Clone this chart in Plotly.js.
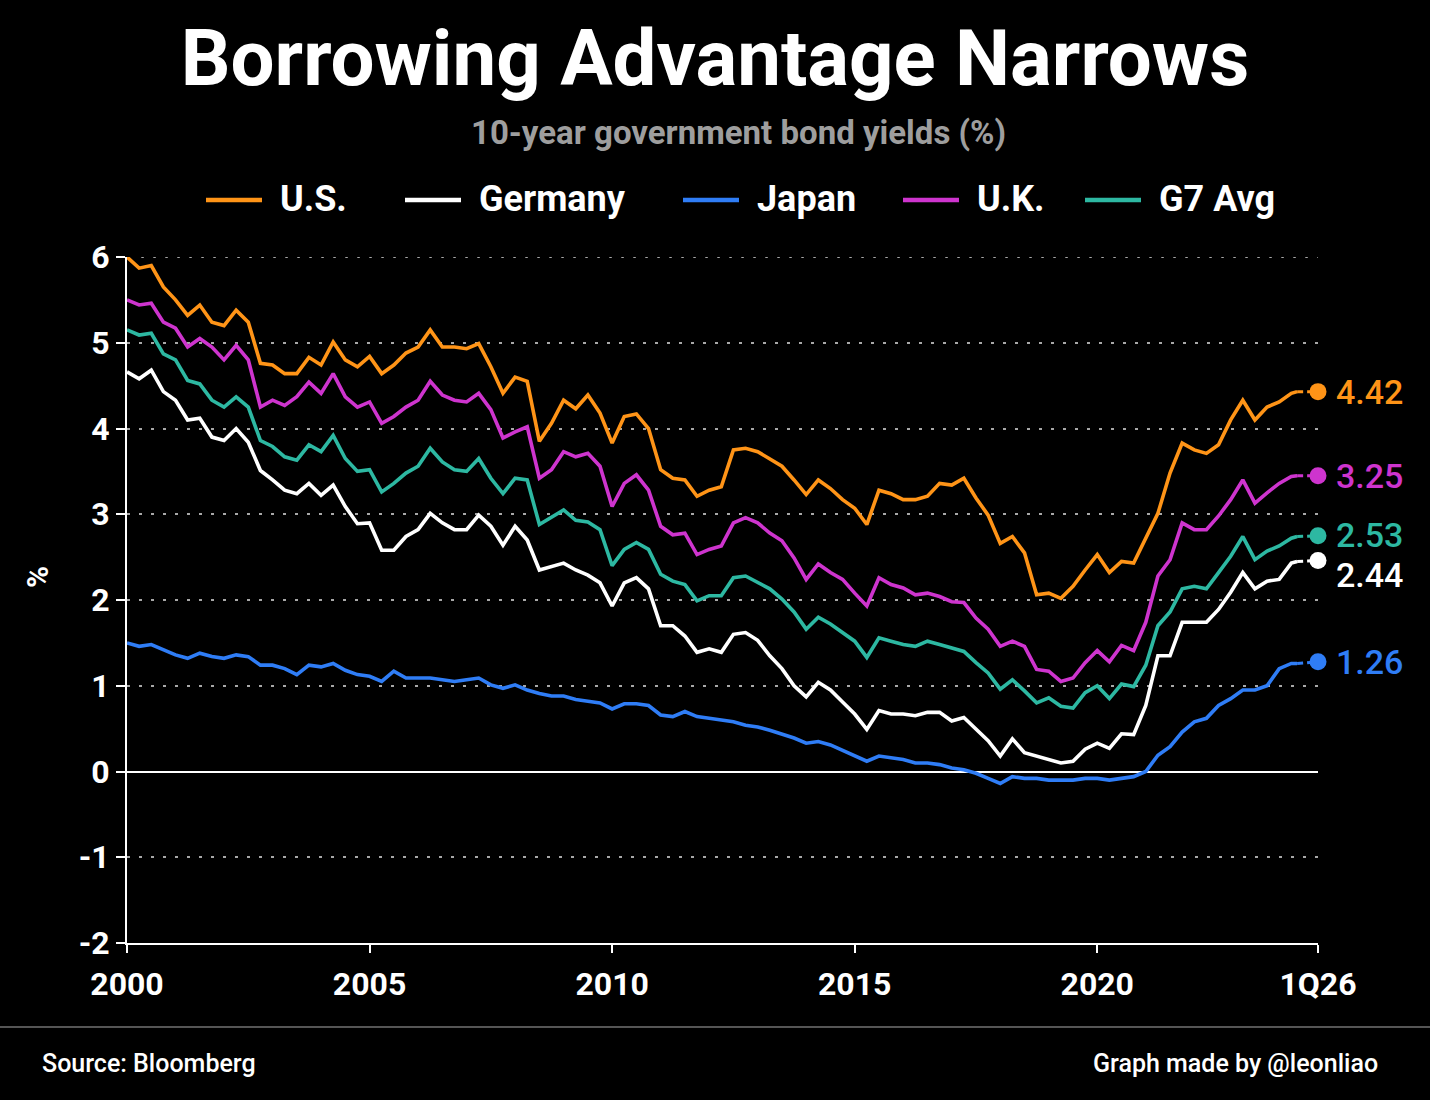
<!DOCTYPE html>
<html><head><meta charset="utf-8">
<script src="https://cdn.plot.ly/plotly-3.0.1.min.js"></script>
<style>html,body{margin:0;padding:0;background:#000;}#chart{width:1430px;height:1100px;}</style>
</head><body><div id="chart"></div>
<script>
// ---------- DATA ----------
// quarterly observations 2000.00 ... 2024.00, plus last observation
const startYear = 2000;
const lastObs = 2024.12;
const endPeriod = 2024.55;          // "1Q26" position (latest reading)
const xTickVals = [2000, 2005, 2010, 2015, 2020, endPeriod];
const xTickText = ["2000", "2005", "2010", "2015", "2020", "1Q26"];
const yTickVals = [-2, -1, 0, 1, 2, 3, 4, 5, 6];

const seriesNames = ["U.S.", "Germany", "Japan", "U.K.", "G7 Avg"];

const us = [
  6.00, 5.87, 5.90, 5.65,  5.50, 5.32, 5.44, 5.24,  5.20, 5.38, 5.24, 4.76,
  4.74, 4.64, 4.64, 4.83,  4.74, 5.01, 4.80, 4.72,  4.84, 4.64, 4.74, 4.88,
  4.95, 5.15, 4.95, 4.95,  4.93, 4.99, 4.72, 4.41,  4.60, 4.55, 3.85, 4.06,
  4.33, 4.23, 4.39, 4.18,  3.83, 4.14, 4.17, 4.00,  3.52, 3.42, 3.40, 3.21,
  3.28, 3.32, 3.75, 3.77,  3.73, 3.65, 3.56, 3.40,  3.23, 3.40, 3.30, 3.17,
  3.07, 2.88, 3.28, 3.24,  3.17, 3.17, 3.21, 3.36,  3.34, 3.42, 3.19, 2.99,
  2.66, 2.74, 2.55, 2.06,  2.08, 2.02, 2.16, 2.35,  2.53, 2.32, 2.45, 2.43,
  2.71, 3.01, 3.48, 3.83,  3.75, 3.71, 3.81, 4.10,  4.33, 4.10, 4.25, 4.31,
  4.41, 4.43
];
const germany = [
  4.66, 4.58, 4.68, 4.43,  4.33, 4.10, 4.12, 3.90,  3.86, 4.00, 3.84, 3.51,
  3.40, 3.28, 3.24, 3.36,  3.22, 3.34, 3.09, 2.89,  2.90, 2.58, 2.58, 2.74,
  2.82, 3.01, 2.90, 2.82,  2.82, 2.99, 2.86, 2.64,  2.86, 2.70, 2.35, 2.39,
  2.43, 2.35, 2.29, 2.20,  1.93, 2.20, 2.26, 2.13,  1.70, 1.70, 1.58, 1.39,
  1.43, 1.39, 1.60, 1.62,  1.53, 1.35, 1.20, 1.00,  0.87, 1.04, 0.95, 0.81,
  0.67, 0.49, 0.71, 0.67,  0.67, 0.65, 0.69, 0.69,  0.59, 0.63, 0.49, 0.36,
  0.18, 0.38, 0.22, 0.18,  0.14, 0.10, 0.12, 0.26,  0.33, 0.27, 0.44, 0.43,
  0.77, 1.35, 1.35, 1.74,  1.74, 1.74, 1.89, 2.09,  2.32, 2.13, 2.22, 2.24,
  2.43, 2.45
];
const japan = [
  1.50, 1.46, 1.48, 1.42,  1.36, 1.32, 1.38, 1.34,  1.32, 1.36, 1.34, 1.24,
  1.24, 1.20, 1.13, 1.24,  1.22, 1.26, 1.18, 1.13,  1.11, 1.05, 1.17, 1.09,
  1.09, 1.09, 1.07, 1.05,  1.07, 1.09, 1.01, 0.97,  1.01, 0.95, 0.91, 0.88,
  0.88, 0.84, 0.82, 0.80,  0.73, 0.79, 0.79, 0.77,  0.66, 0.64, 0.70, 0.64,
  0.62, 0.60, 0.58, 0.54,  0.52, 0.48, 0.44, 0.39,  0.33, 0.35, 0.31, 0.25,
  0.18, 0.12, 0.18, 0.16,  0.14, 0.10, 0.10, 0.08,  0.04, 0.02, -0.02, -0.08,
  -0.14, -0.06, -0.08, -0.08,  -0.10, -0.10, -0.10, -0.08,  -0.08, -0.10, -0.08, -0.06,
  0.00, 0.19, 0.29, 0.46,  0.58, 0.62, 0.77, 0.85,  0.95, 0.95, 1.00, 1.20,
  1.26, 1.26
];
const uk = [
  5.50, 5.44, 5.46, 5.24,  5.17, 4.95, 5.05, 4.95,  4.80, 4.97, 4.80, 4.25,
  4.33, 4.27, 4.37, 4.54,  4.41, 4.64, 4.37, 4.25,  4.31, 4.06, 4.14, 4.25,
  4.33, 4.55, 4.39, 4.33,  4.31, 4.41, 4.22, 3.89,  3.96, 4.02, 3.42, 3.52,
  3.73, 3.67, 3.71, 3.56,  3.09, 3.36, 3.46, 3.28,  2.86, 2.76, 2.78, 2.53,
  2.59, 2.63, 2.90, 2.96,  2.90, 2.78, 2.69, 2.49,  2.24, 2.42, 2.32, 2.24,
  2.08, 1.93, 2.26, 2.18,  2.14, 2.06, 2.08, 2.04,  1.98, 1.97, 1.79, 1.66,
  1.46, 1.52, 1.46, 1.19,  1.17, 1.05, 1.09, 1.27,  1.41, 1.28, 1.47, 1.41,
  1.74, 2.28, 2.47, 2.90,  2.82, 2.82, 2.98, 3.17,  3.40, 3.13, 3.25, 3.36,
  3.44, 3.45
];
const g7 = [
  5.15, 5.09, 5.11, 4.87,  4.80, 4.56, 4.52, 4.33,  4.25, 4.37, 4.25, 3.86,
  3.79, 3.67, 3.63, 3.81,  3.73, 3.92, 3.65, 3.50,  3.52, 3.26, 3.36, 3.48,
  3.56, 3.77, 3.61, 3.52,  3.50, 3.65, 3.42, 3.24,  3.42, 3.40, 2.88, 2.97,
  3.05, 2.93, 2.91, 2.82,  2.40, 2.59, 2.67, 2.59,  2.30, 2.22, 2.18, 1.99,
  2.05, 2.05, 2.26, 2.28,  2.20, 2.13, 2.01, 1.86,  1.66, 1.80, 1.72, 1.62,
  1.52, 1.33, 1.56, 1.52,  1.48, 1.46, 1.52, 1.48,  1.44, 1.40, 1.27, 1.15,
  0.96, 1.07, 0.94, 0.80,  0.86, 0.76, 0.74, 0.92,  1.00, 0.85, 1.02, 0.99,
  1.24, 1.70, 1.86, 2.13,  2.16, 2.13, 2.32, 2.51,  2.74, 2.47, 2.57, 2.63,
  2.72, 2.74
];

// latest reading (dot) and the printed label of each series
const latestValues = [4.43, 2.46, 1.28, 3.45, 2.75];
const latestLabels = ["4.42", "2.44", "1.26", "3.25", "2.53"];
const labelShift   = [0, -14, 0, 0, 1];

const colors = ["#FF9417", "#FFFFFF", "#2F7DF6", "#CE34CE", "#2DB8A2"];

// ---------- BUILD ----------
const periods = [];
for (let i = 0; i < us.length - 1; i++) periods.push(startYear + i * 0.25);
periods.push(lastObs);

const allSeries = [us, germany, japan, uk, g7];
const drawOrder = [2, 1, 4, 3, 0];

const FONT = 'Roboto, "Noto Sans", sans-serif';
const traces = [];
drawOrder.forEach(i => {
  const s = allSeries[i];
  traces.push({
    x: periods, y: s, type: 'scatter', mode: 'lines', name: seriesNames[i],
    line: {color: colors[i], width: 3.6, shape: 'linear'}, showlegend: false, hoverinfo: 'skip'
  });
  traces.push({
    x: [periods[periods.length - 1], endPeriod], y: [s[s.length - 1], latestValues[i]],
    type: 'scatter', mode: 'lines', cliponaxis: false,
    line: {color: colors[i], width: 3, dash: '6px,4px'}, showlegend: false, hoverinfo: 'skip'
  });
  traces.push({
    x: [endPeriod], y: [latestValues[i]],
    type: 'scatter', mode: 'markers', cliponaxis: false, opacity: 1,
    marker: {color: colors[i], size: 17, opacity: 1, line: {width: 0}}, showlegend: false, hoverinfo: 'skip'
  });
});

// pixel helpers for page furniture (plot area: x 127..1318, y 257..943)
const W = 1430, H = 1100, L = 127, R = 1318, T = 257, B = 943;
const px = X => (X - L) / (R - L);
const py = Y => (B - Y) / (B - T);

const annotations = [];
const shapes = [];
const GRID_DASH = '2.5px,9.5px';

// top gridline (at the range edge)
shapes.push({type: 'line', xref: 'paper', yref: 'y', x0: 0.012, x1: 1, y0: 6, y1: 6,
  line: {color: '#A8A8A8', width: 2, dash: GRID_DASH}, layer: 'below'});

// subtitle
annotations.push({xref: 'paper', yref: 'paper', x: px(738), y: py(133), text: '10-year government bond yields (%)',
  showarrow: false, xanchor: 'center', yanchor: 'middle', font: {family: FONT, size: 33, color: '#9E9E9E', weight: 700}});

// legend
const legendOrder = [0, 1, 2, 3, 4];
const legendX = [206, 405, 683, 903, 1085];
legendOrder.forEach((i, k) => {
  shapes.push({type: 'line', xref: 'paper', yref: 'paper', x0: px(legendX[k]), x1: px(legendX[k] + 56),
    y0: py(200), y1: py(200), line: {color: colors[i], width: 4.5}});
  annotations.push({xref: 'paper', yref: 'paper', x: px(legendX[k] + 72), y: py(199), text: seriesNames[i],
    showarrow: false, xanchor: 'left', yanchor: 'middle', font: {family: FONT, size: 36, color: '#FFFFFF', weight: 700}});
});

// end labels
[0, 3, 4, 1, 2].forEach(i => {
  annotations.push({x: endPeriod, y: latestValues[i], xref: 'x', yref: 'y', text: latestLabels[i], showarrow: false,
    xanchor: 'left', yanchor: 'middle', xshift: 16, yshift: labelShift[i],
    font: {family: FONT, size: 34, color: colors[i], weight: 500}});
});

// y axis title
annotations.push({xref: 'paper', yref: 'paper', x: px(37), y: py(577), text: '%', textangle: -90, showarrow: false,
  xanchor: 'center', yanchor: 'middle', font: {family: FONT, size: 30, color: '#FFFFFF', weight: 700}});

// footer
shapes.push({type: 'line', xref: 'paper', yref: 'paper', x0: px(0), x1: px(W), y0: py(1027), y1: py(1027),
  line: {color: '#555555', width: 2}});
annotations.push({xref: 'paper', yref: 'paper', x: px(40), y: py(1063), text: 'Source: Bloomberg', showarrow: false,
  xanchor: 'left', yanchor: 'middle', font: {family: FONT, size: 25, color: '#FFFFFF', weight: 500}});
annotations.push({xref: 'paper', yref: 'paper', x: px(1380), y: py(1063), text: 'Graph made by @leonliao', showarrow: false,
  xanchor: 'right', yanchor: 'middle', font: {family: FONT, size: 25, color: '#FFFFFF', weight: 500}});

const layout = {
  width: W, height: H,
  paper_bgcolor: '#000000', plot_bgcolor: '#000000',
  margin: {l: L, r: W - R, t: T, b: H - B, pad: 0},
  title: {text: 'Borrowing Advantage Narrows', x: 0.5, xanchor: 'center', xref: 'container',
    y: 1 - 58 / H, yanchor: 'middle', yref: 'container',
    font: {family: FONT, size: 78, color: '#FFFFFF', weight: 700}},
  showlegend: false,
  xaxis: {range: [startYear, endPeriod], tickvals: xTickVals, ticktext: xTickText,
    showgrid: false, zeroline: false, showline: true, linecolor: '#FFFFFF', linewidth: 2,
    ticks: 'outside', ticklen: 8, tickwidth: 2, tickcolor: '#FFFFFF', ticklabelstandoff: 4,
    tickfont: {family: FONT, size: 32, color: '#FFFFFF', weight: 700}, fixedrange: true},
  yaxis: {range: [-2, 6], tickvals: yTickVals, ticktext: yTickVals.map(String),
    showgrid: true, gridcolor: '#A8A8A8', gridwidth: 2, griddash: GRID_DASH,
    zeroline: true, zerolinecolor: '#FFFFFF', zerolinewidth: 2,
    showline: true, linecolor: '#FFFFFF', linewidth: 2,
    ticks: 'outside', ticklen: 9, tickwidth: 2, tickcolor: '#FFFFFF',
    tickfont: {family: FONT, size: 32, color: '#FFFFFF', weight: 700}, fixedrange: true},
  annotations: annotations,
  shapes: shapes
};

Plotly.newPlot('chart', traces, layout, {staticPlot: true, displayModeBar: false});
</script>
</body></html>
